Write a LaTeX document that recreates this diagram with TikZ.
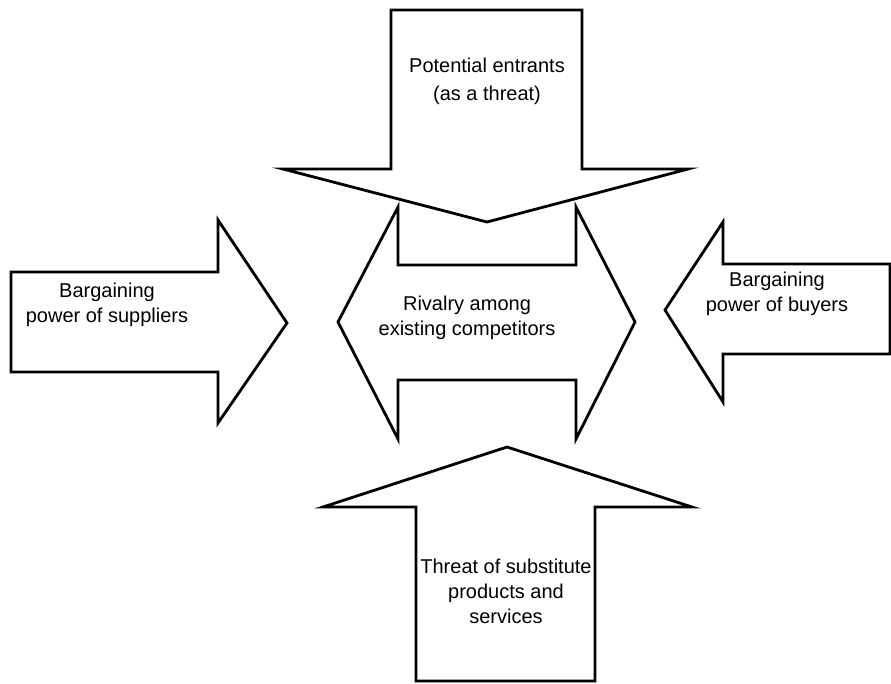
\documentclass[tikz,border=0pt]{standalone}
\usepackage{fontspec}
\setmainfont{Liberation Sans}
\begin{document}
\begin{tikzpicture}[x=1pt,y=-1pt,
  force/.style={draw=black,fill=white,line width=2.8pt,line join=miter},
  label/.style={align=center,inner sep=0pt,font=\fontsize{20}{25}\selectfont}]
\useasboundingbox (0,0) rectangle (891,683);

% Potential entrants: downward arrow from the top
\draw[force] (391,10) -- (582,10) -- (582,169) -- (688,169) -- (487,222)
  -- (283,169) -- (391,169) -- cycle;
% Rivalry: double-headed arrow in the middle
\draw[force] (338,322) -- (398,207) -- (398,265) -- (576,265) -- (576,207)
  -- (635,322) -- (576,439) -- (576,380) -- (398,380) -- (398,439) -- cycle;
% Suppliers: arrow from the left
\draw[force] (11,272) -- (218,272) -- (218,220) -- (287,323) -- (218,423)
  -- (218,372) -- (11,372) -- cycle;
% Buyers: arrow from the right
\draw[force] (890,264) -- (723,264) -- (723,222) -- (665,310) -- (723,402)
  -- (723,354) -- (890,354) -- cycle;
% Substitutes: upward arrow from the bottom
\draw[force] (507,447) -- (692,507) -- (595,507) -- (595,681) -- (416,681)
  -- (416,507) -- (323,507) -- cycle;

\node[label,font=\fontsize{20}{28}\selectfont] (entrants) at (487,81)
  {Potential entrants\\(as a threat)};
\node[label] (rivalry) at (467,318) {Rivalry among\\existing competitors};
\node[label] (suppliers) at (107,305) {Bargaining\\power of suppliers};
\node[label] (buyers) at (777,294) {Bargaining\\power of buyers};
\node[label] (substitutes) at (506,591)
  {Threat of substitute\\products and\\services};
\end{tikzpicture}
\end{document}
